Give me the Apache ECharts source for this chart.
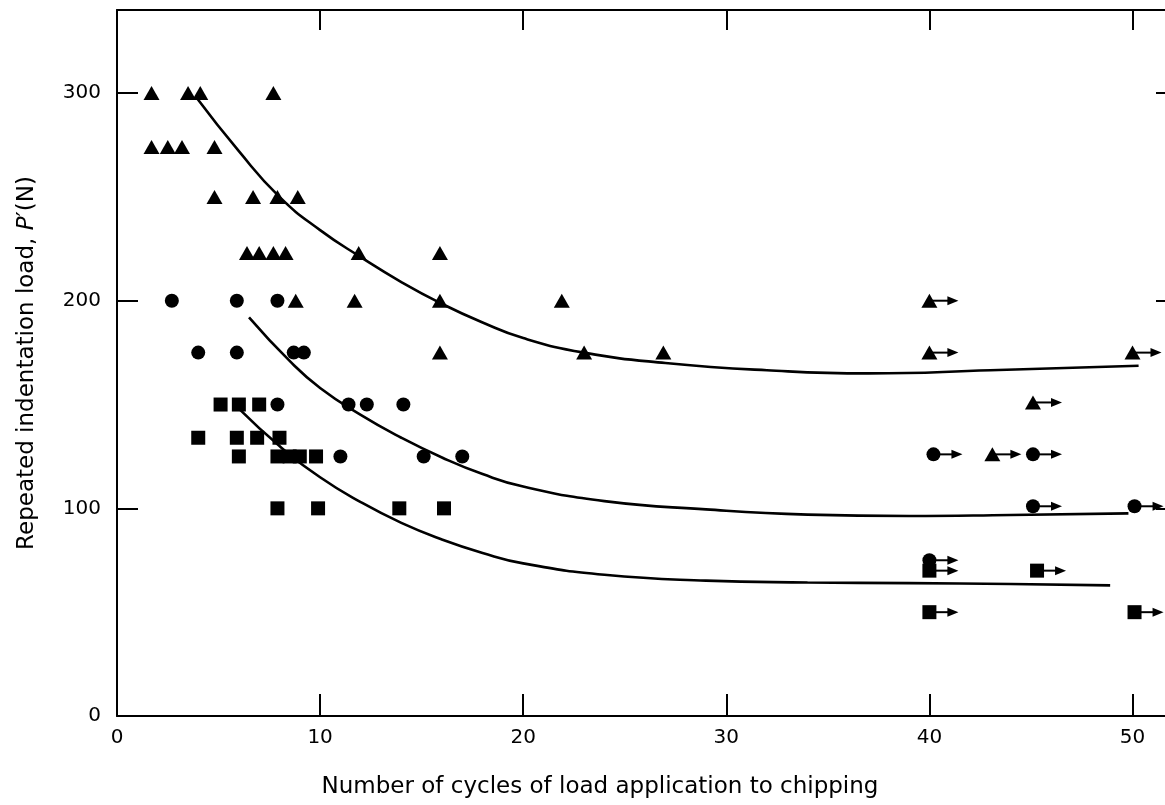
<!DOCTYPE html>
<html>
<head>
<meta charset="utf-8">
<title>Repeated indentation load vs cycles to chipping</title>
<script src="https://cdn.jsdelivr.net/npm/echarts@6/dist/echarts.min.js"></script>
<style>
    html, body { margin: 0; padding: 0; background: #fff; }
    #container { width: 1165px; height: 805px; }
</style>
</head>
<body>
<div id="container"></div>
<script>
// points: [cycles, load N]
var triangles = [
    [1.7, 300], [3.5, 300], [4.1, 300], [7.7, 300],
    [1.7, 274], [2.5, 274], [3.2, 274], [4.8, 274],
    [4.8, 250], [6.7, 250], [7.9, 250], [8.9, 250],
    [6.4, 223], [7.0, 223], [7.7, 223], [8.3, 223], [11.9, 223], [15.9, 223],
    [8.8, 200], [11.7, 200], [15.9, 200], [21.9, 200],
    [15.9, 175], [23.0, 175], [26.9, 175]
];
var circles = [
    [2.7, 200], [5.9, 200], [7.9, 200],
    [4.0, 175], [5.9, 175], [8.7, 175], [9.2, 175],
    [7.9, 150], [11.4, 150], [12.3, 150], [14.1, 150],
    [11.0, 125], [15.1, 125], [17.0, 125]
];
var squares = [
    [5.1, 150], [6.0, 150], [7.0, 150],
    [4.0, 134], [5.9, 134], [6.9, 134], [8.0, 134],
    [6.0, 125], [7.9, 125], [8.5, 125], [9.0, 125], [9.8, 125],
    [7.9, 100], [9.9, 100], [13.9, 100], [16.1, 100]
];
// run-outs (no chipping), drawn with an arrow
var trianglesRunOut = [[40, 200], [40, 175], [50, 175], [45.1, 151], [43.1, 126]];
var circlesRunOut = [[40.2, 126], [45.1, 126], [45.1, 101], [50.1, 101], [40, 75]];
var squaresRunOut = [[40, 70], [45.3, 70], [40, 50], [50.1, 50]];

// fitted curves
var curveTop = [[3.9, 298], [6, 272], [8, 250], [10, 234], [12, 221], [14, 209],
    [16, 198.5], [18, 189.5], [20, 182], [23, 175], [27, 170], [32, 166.5],
    [37, 165], [43, 166.5], [50.3, 168.7]];
var curveMid = [[6.5, 192], [8.5, 171], [10, 158], [12, 145], [14, 134], [16, 124.5],
    [18, 116.5], [20, 110.5], [24, 103.5], [29, 99.5], [34, 97], [39, 96.3],
    [44, 96.8], [49.8, 97.6]];
var curveLow = [[6, 148], [8, 130], [10, 115], [12, 103], [14, 93], [16, 85],
    [18, 78.5], [20, 73.5], [24, 68], [29, 65.2], [34, 64.3], [39, 64],
    [44, 63.6], [48.9, 62.9]];

var xTicks = [0, 10, 20, 30, 40, 50];
var yTicks = [0, 100, 200, 300];

var FONT = 'DejaVu Sans';
var black = '#000';

function curve(data) {
    return {
        type: 'line', data: data, smooth: 0.5,
        showSymbol: false, symbol: 'none',
        lineStyle: { color: black, width: 2.6 }, z: 2
    };
}

function marks(data, symbol, size) {
    return {
        type: 'scatter', data: data, symbol: symbol, symbolSize: size,
        itemStyle: { color: black, opacity: 1 }, z: 4
    };
}

// arrow to the right of a run-out point, in pixels from its coord
function arrows(data) {
    return {
        type: 'custom', data: data, z: 3,
        renderItem: function (params, api) {
            var p = api.coord([api.value(0), api.value(1)]);
            var tip = p[0] + 29;
            return {
                type: 'group',
                children: [
                    { type: 'line', shape: { x1: p[0], y1: p[1], x2: tip - 8, y2: p[1] },
                      style: { stroke: black, lineWidth: 2 } },
                    { type: 'polygon', shape: { points: [[tip, p[1]], [tip - 11, p[1] - 4.5], [tip - 11, p[1] + 4.5]] },
                      style: { fill: black } }
                ]
            };
        }
    };
}

var axisLine = { show: true, onZero: false, lineStyle: { color: black, width: 2 } };

function tick(len, values) {
    return { inside: true, length: len, customValues: values, lineStyle: { color: black, width: 2 } };
}

var option = {
    backgroundColor: '#fff',
    animation: false,
    grid: { left: 117, right: 0, top: 10, bottom: 89 },
    xAxis: [{
        type: 'value', position: 'bottom', min: 0, max: 51.6, interval: 10,
        axisLine: axisLine,
        axisTick: tick(22, xTicks),
        axisLabel: { color: black, fontSize: 20, fontFamily: FONT, margin: 12, customValues: xTicks },
        splitLine: { show: false },
        name: 'Number of cycles of load application to chipping',
        nameLocation: 'middle', nameGap: 60,
        nameTextStyle: { color: black, fontSize: 23, fontFamily: FONT, padding: [0, 82, 0, 0] }
    }, {
        type: 'value', position: 'top', min: 0, max: 51.6, interval: 10,
        axisLine: axisLine,
        axisTick: tick(20, xTicks),
        axisLabel: { show: false },
        splitLine: { show: false }
    }],
    yAxis: [{
        type: 'value', position: 'left', min: 0, max: 340, interval: 100,
        axisLine: axisLine,
        axisTick: tick(21, yTicks),
        axisLabel: { color: black, fontSize: 20, fontFamily: FONT, margin: 16, customValues: yTicks },
        splitLine: { show: false },
        name: 'Repeated indentation load, {i|P}′(N)',
        nameLocation: 'middle', nameGap: 78,
        nameTextStyle: {
            color: black, fontSize: 23, fontFamily: FONT,
            rich: { i: { fontStyle: 'italic', fontSize: 23, fontFamily: FONT, color: black } }
        }
    }, {
        type: 'value', position: 'right', min: 0, max: 340, interval: 100,
        axisLine: { show: false, onZero: false },
        axisTick: tick(9, [100, 200, 300]),
        axisLabel: { show: false },
        splitLine: { show: false }
    }],
    series: [
        curve(curveTop),
        curve(curveMid),
        curve(curveLow),
        arrows(trianglesRunOut.concat(circlesRunOut, squaresRunOut)),
        marks(triangles.concat(trianglesRunOut), 'triangle', [16, 14]),
        marks(circles.concat(circlesRunOut), 'circle', 14),
        marks(squares.concat(squaresRunOut), 'rect', 14)
    ]
};

echarts.init(document.getElementById('container')).setOption(option);
</script>
</body>
</html>
